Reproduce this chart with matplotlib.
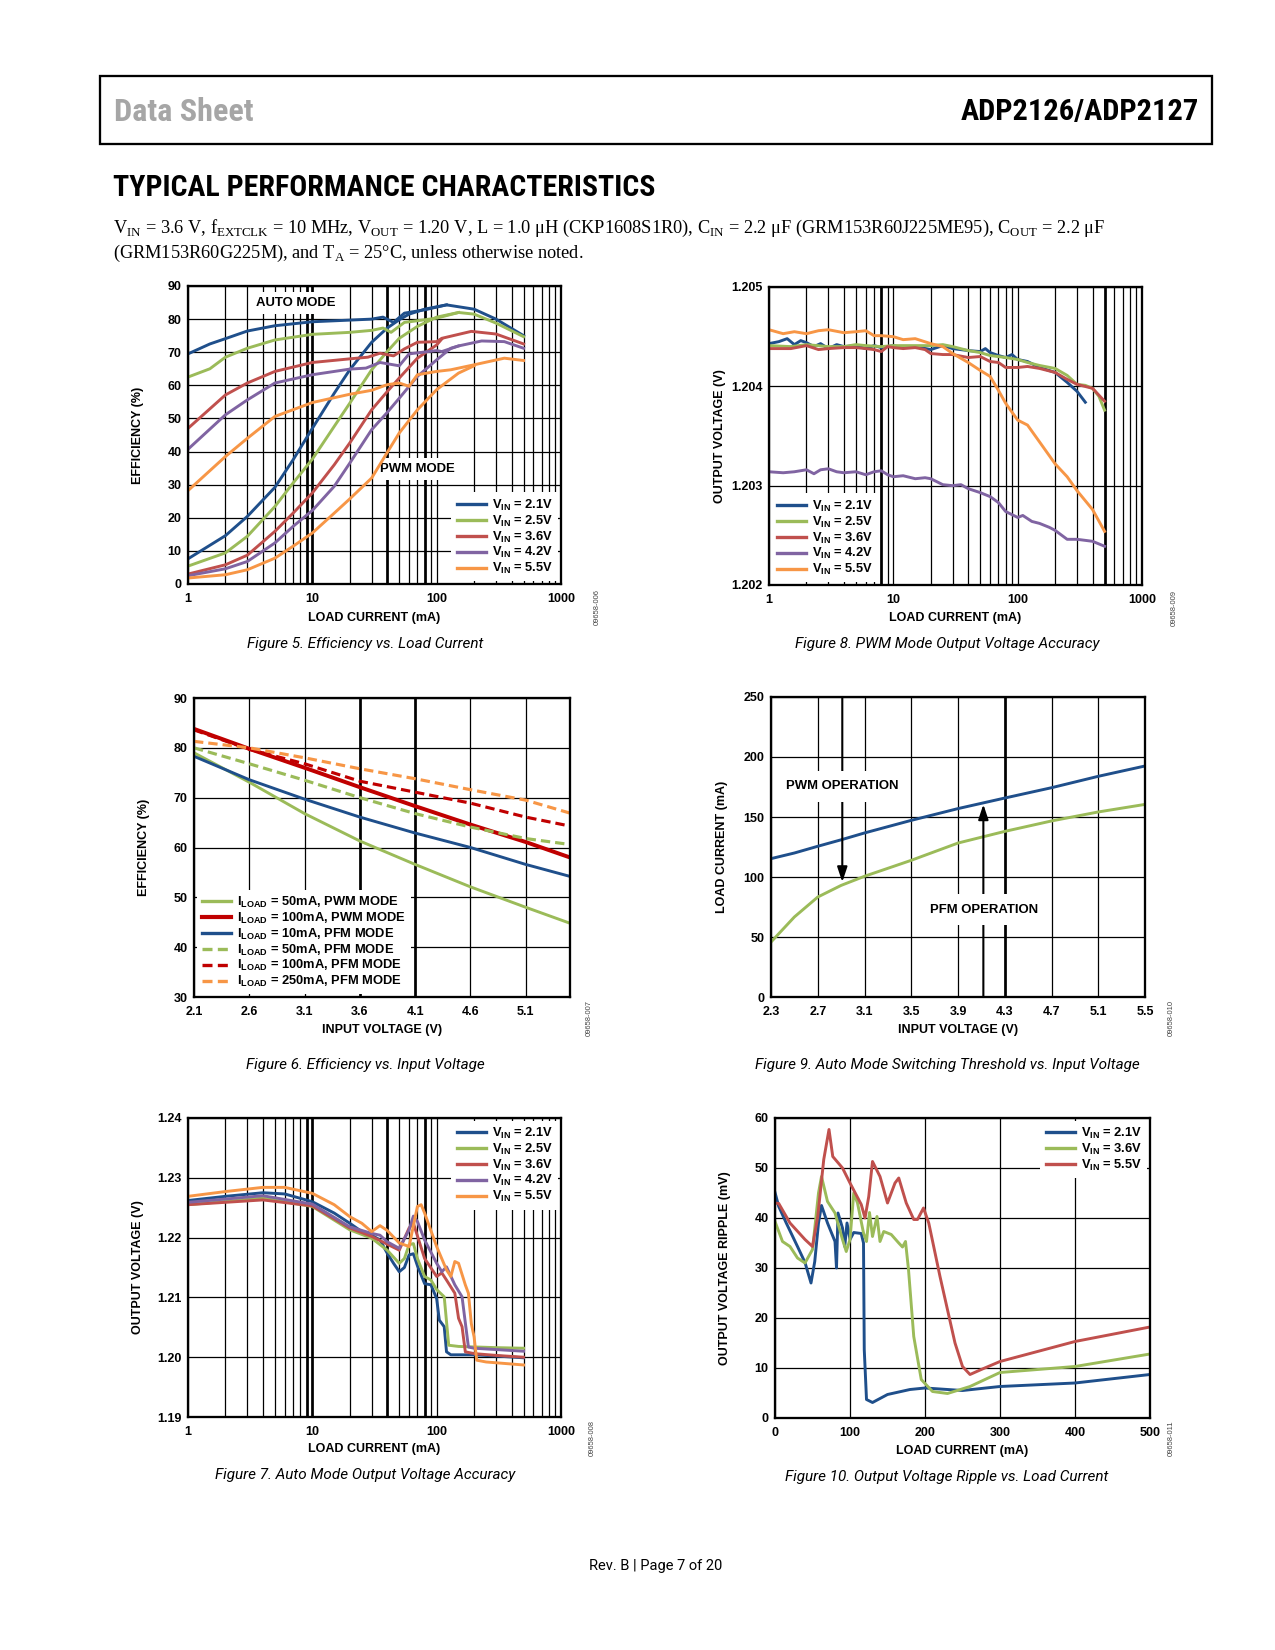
import os
import matplotlib
matplotlib.use('Agg')
import matplotlib.pyplot as plt
from matplotlib import font_manager as fm
from matplotlib.font_manager import FontProperties
from matplotlib.ticker import LogLocator, NullFormatter
from matplotlib.patches import Rectangle

# ---- colours
BLUE = '#1f4f8b'
GREEN = '#9bbb59'
RED = '#c0504d'
PURPLE = '#8064a2'
ORANGE = '#f79646'
DRED = '#c00000'

# ---- Figure 5: efficiency vs load current (auto / pwm mode)
f5_labels = [r'V$_{\mathbf{IN}}$ = 2.1V', r'V$_{\mathbf{IN}}$ = 2.5V', r'V$_{\mathbf{IN}}$ = 3.6V',
             r'V$_{\mathbf{IN}}$ = 4.2V', r'V$_{\mathbf{IN}}$ = 5.5V']
f5_auto_x = [
    [1, 1.5, 2, 3, 5, 10, 20, 30, 37, 45, 55, 80, 120, 200, 300, 500],
    [1, 1.5, 2, 3, 5, 10, 20, 30, 37, 43, 55, 80, 100, 150, 200, 300, 500],
    [1, 2, 3, 5, 10, 20, 28, 35, 45, 55, 70, 100, 110, 190, 300, 500],
    [1, 2, 3, 5, 10, 20, 27, 35, 50, 60, 100, 110, 150, 230, 350, 500],
    [1, 2, 3, 5, 10, 20, 30, 40, 50, 60, 70, 100, 130, 200, 350, 500],
]
f5_auto_y = [
    [69.5, 72.5, 74.1, 76.4, 78, 79.2, 79.7, 80, 80.6, 79, 81.8, 82.8, 84.3, 83, 80, 75],
    [62.5, 65, 68.5, 71.2, 73.7, 75.4, 76, 76.6, 77.3, 76, 79, 79.8, 80.3, 82, 81.5, 78.8, 74.7],
    [47, 57.1, 60.7, 64.2, 66.9, 68, 68.5, 69.7, 68.9, 71, 73, 73.2, 74.2, 76.3, 75.5, 72.5],
    [40.7, 51.1, 55.6, 60.7, 63.2, 64.9, 65.2, 66.9, 65.9, 69.5, 70.5, 70.2, 71.9, 73.4, 73.2, 71.2],
    [28.2, 38.5, 44, 50.6, 54.8, 57.3, 58.5, 60.2, 60.7, 59.7, 63.2, 64.2, 64.7, 66.2, 68.2, 67.5],
]
f5_pwm_x = [
    [1, 2, 3, 5, 7, 10, 15, 20, 30, 40, 50, 60, 80, 120],
    [1, 2, 3, 5, 7, 10, 15, 20, 30, 40, 50, 70, 100, 150],
    [1, 2, 3, 5, 7, 10, 15, 20, 30, 40, 50, 70, 100, 110],
    [1, 2, 3, 5, 7, 10, 15, 20, 30, 40, 50, 70, 100, 130, 150],
    [1, 2, 3, 5, 7, 10, 15, 20, 30, 40, 50, 70, 100, 150, 200],
]
f5_pwm_y = [
    [7.6, 14.6, 20.4, 29.2, 37.5, 47, 57.6, 64.7, 73, 77.3, 79.8, 81.5, 83, 84.3],
    [5.4, 9.4, 14.4, 23.4, 30.5, 37.7, 47.6, 54.6, 64.7, 70.2, 74.2, 77.8, 80.6, 82],
    [3, 5.8, 8.7, 15.9, 21.4, 27.5, 36, 42.6, 52.6, 58.1, 62.2, 68.2, 72.2, 74],
    [2.5, 4.6, 6.8, 12.4, 17.4, 22.2, 29.5, 36.5, 46.6, 51.8, 56.1, 62.7, 67.7, 71.2, 71.9],
    [1.8, 2.8, 4.3, 7.8, 11.4, 15.4, 21.4, 25.7, 32, 39.7, 45.6, 52.6, 58.7, 63.7, 65.9],
]
f5_colors = [BLUE, GREEN, RED, PURPLE, ORANGE]

# ---- Figure 8: PWM mode output voltage accuracy
f8_x = [
    [1, 1.2, 1.4, 1.6, 1.8, 2, 2.3, 2.6, 3, 3.5, 4, 5, 6, 7, 8, 10, 12, 15, 20, 25,
     30, 40, 50, 55, 60, 70, 80, 90, 100, 120, 150, 200, 250, 300, 350],
    [1, 1.5, 2, 3, 4, 5, 6, 8, 10, 15, 20, 25, 30, 40, 50, 60, 80, 100, 120, 150,
     200, 250, 300, 350, 400, 450, 500],
    [1, 1.5, 2, 2.5, 3, 4, 5, 6, 7, 8, 9, 10, 12, 15, 18, 20, 25, 30, 40, 50,
     60, 70, 80, 100, 120, 150, 200, 250, 300, 400, 500],
    [1, 1.3, 1.6, 2, 2.3, 2.6, 3, 3.5, 4, 5, 6, 7, 8, 9, 10, 12, 15, 18, 20, 25,
     30, 35, 40, 50, 60, 70, 80, 100, 110, 130, 150, 180, 200, 250, 300, 400, 500],
    [1, 1.3, 1.6, 2, 2.5, 3, 4, 5, 6, 7, 8, 10, 12, 15, 20, 25, 30, 40, 50, 60,
     70, 80, 100, 120, 150, 200, 250, 300, 400, 500],
]
f8_y = [
    [1.20443, 1.20445, 1.20448, 1.20442, 1.20446, 1.20444, 1.20440, 1.20443, 1.20438, 1.20442,
     1.20440, 1.20441, 1.20438, 1.20441, 1.20439, 1.20441, 1.20439, 1.20440, 1.20437, 1.20441,
     1.20438, 1.20436, 1.20435, 1.20438, 1.20434, 1.20431, 1.20429, 1.20432, 1.20427, 1.20425,
     1.20419, 1.20414, 1.20404, 1.20395, 1.20384],
    [1.20441, 1.20440, 1.20442, 1.20440, 1.20440, 1.20442, 1.20441, 1.20440, 1.20441, 1.20441,
     1.20441, 1.20442, 1.20440, 1.20436, 1.20434, 1.20431, 1.20429, 1.20427, 1.20424, 1.20421,
     1.20418, 1.20411, 1.20402, 1.20401, 1.20398, 1.20390, 1.20376],
    [1.20438, 1.20438, 1.20441, 1.20437, 1.20438, 1.20439, 1.20439, 1.20438, 1.20437, 1.20435,
     1.20440, 1.20439, 1.20438, 1.20439, 1.20437, 1.20433, 1.20432, 1.20432, 1.20429, 1.20430,
     1.20425, 1.20424, 1.20419, 1.20419, 1.20420, 1.20418, 1.20414, 1.20407, 1.20402, 1.20398,
     1.20385],
    [1.20314, 1.20313, 1.20314, 1.20316, 1.20312, 1.20316, 1.20317, 1.20314, 1.20313, 1.20314,
     1.20311, 1.20314, 1.20315, 1.20311, 1.20309, 1.20310, 1.20307, 1.20308, 1.20307, 1.20301,
     1.20300, 1.20301, 1.20297, 1.20293, 1.20289, 1.20283, 1.20274, 1.20268, 1.20270, 1.20264,
     1.20262, 1.20258, 1.20255, 1.20246, 1.20246, 1.20244, 1.20239],
    [1.20457, 1.20453, 1.20455, 1.20453, 1.20456, 1.20457, 1.20454, 1.20455, 1.20456, 1.20451,
     1.20451, 1.20450, 1.20447, 1.20448, 1.20443, 1.20440, 1.20433, 1.20424, 1.20416, 1.20410,
     1.20396, 1.20383, 1.20366, 1.20361, 1.20344, 1.20322, 1.20309, 1.20295, 1.20276, 1.20254],
]

# ---- Figure 6: efficiency vs input voltage
f6_vin = [2.1, 2.6, 3.1, 3.6, 4.1, 4.6, 5.1, 5.5]
f6_50ma_pwm = [79, 73.1, 66.8, 61.3, 56.6, 52.1, 48, 44.8]
f6_100ma_pwm = [83.8, 79.8, 76, 72.1, 68.3, 64.6, 61.1, 58]
f6_10ma_pfm = [78.3, 73.6, 69.7, 66.1, 62.9, 60, 56.6, 54.2]
f6_50ma_pfm = [80, 76.8, 73.5, 70, 66.8, 64.1, 61.8, 60.6]
f6_100ma_pfm = [83.6, 79.7, 76.8, 73.3, 71.1, 68.9, 66.1, 64.3]
f6_250ma_pfm = [81.3, 80, 78, 75.8, 73.8, 71.6, 69.5, 66.9]

# ---- Figure 9: auto mode switching threshold
f9_vin = [2.3, 2.5, 2.7, 2.9, 3.1, 3.5, 3.9, 4.3, 4.7, 5.1, 5.5]
f9_pfm_to_pwm = [115.3, 120, 125.6, 131, 136.7, 147.2, 157, 165.8, 174.4, 183.9, 192.5]
f9_pwm_to_pfm = [45.8, 66.7, 83.3, 93, 100.6, 113.9, 128.3, 138, 146.7, 154.2, 160.5]

# ---- Figure 7: auto mode output voltage accuracy
f7_x = [
    [1, 2, 4, 6, 10, 15, 20, 25, 30, 35, 40, 45, 50, 55, 60, 65, 70, 80, 90, 100,
     105, 115, 120, 130, 200, 300, 500],
    [1, 4, 10, 20, 30, 40, 50, 55, 60, 65, 70, 80, 90, 100, 115, 125, 150, 300, 500],
    [1, 4, 10, 20, 30, 40, 50, 60, 65, 80, 100, 110, 120, 140, 150, 160, 170, 200, 300, 500],
    [1, 4, 10, 20, 30, 35, 40, 50, 60, 65, 70, 80, 100, 110, 120, 140, 160, 180, 200, 500],
    [1, 2, 4, 6, 10, 15, 20, 25, 30, 35, 40, 50, 60, 70, 75, 80, 100, 120, 130, 140,
     150, 170, 180, 190, 200, 210, 250, 500],
]
f7_y = [
    [1.2262, 1.2269, 1.2275, 1.2273, 1.2260, 1.2241, 1.2224, 1.2210, 1.2204, 1.2196,
     1.2174, 1.2157, 1.2143, 1.2150, 1.2171, 1.2173, 1.2153, 1.2123, 1.2121, 1.2098,
     1.2062, 1.2051, 1.2009, 1.2004, 1.2004, 1.2002, 1.1999],
    [1.2255, 1.2266, 1.2252, 1.2213, 1.2199, 1.2179, 1.2157, 1.2165, 1.2188, 1.2190,
     1.2165, 1.2135, 1.2129, 1.2113, 1.2101, 1.2020, 1.2018, 1.2016, 1.2015],
    [1.2255, 1.2263, 1.2253, 1.2216, 1.2202, 1.2189, 1.2179, 1.2216, 1.2224, 1.2165,
     1.2135, 1.2141, 1.2129, 1.2107, 1.2065, 1.2051, 1.2009, 1.2006, 1.2003, 1.2000],
    [1.2259, 1.2270, 1.2256, 1.2218, 1.2207, 1.2204, 1.2193, 1.2182, 1.2213, 1.2236,
     1.2227, 1.2196, 1.2157, 1.2143, 1.2151, 1.2121, 1.2101, 1.2017, 1.2015, 1.2010],
    [1.2269, 1.2277, 1.2284, 1.2284, 1.2274, 1.2255, 1.2235, 1.2224, 1.2210, 1.2220,
     1.2212, 1.2191, 1.2185, 1.2252, 1.2255, 1.2241, 1.2185, 1.2146, 1.2135, 1.2160,
     1.2157, 1.2121, 1.2107, 1.2056, 1.2034, 1.1995, 1.1992, 1.1987],
]

# ---- Figure 10: output voltage ripple vs load current
f10_labels = [r'V$_{\mathbf{IN}}$ = 2.1V', r'V$_{\mathbf{IN}}$ = 3.6V', r'V$_{\mathbf{IN}}$ = 5.5V']
f10_x = [
    [0, 5, 15, 30, 40, 48, 53, 58, 62, 70, 80, 82, 84, 90, 93, 96, 100, 105, 115, 118,
     119, 122, 130, 150, 180, 200, 250, 300, 400, 500],
    [0, 10, 20, 30, 40, 50, 58, 62, 70, 80, 90, 95, 100, 105, 110, 118, 122, 126, 130, 136,
     140, 145, 155, 165, 170, 174, 178, 185, 195, 210, 230, 260, 300, 400, 500],
    [0, 5, 20, 40, 50, 57, 65, 72, 77, 90, 100, 115, 120, 125, 130, 140, 150, 160, 165, 175,
     185, 190, 198, 205, 220, 240, 250, 260, 275, 300, 400, 500],
]
f10_y = [
    [45.1, 42.3, 39, 34.3, 31.1, 27, 31.3, 39, 42.5, 39, 35.3, 30, 41, 38, 34.3, 39, 35.7, 37.1, 36.9, 35,
     13.7, 3.7, 3.1, 4.7, 5.7, 6, 5.5, 6.3, 7, 8.7],
    [39.3, 35.3, 34.3, 32, 31, 33.7, 45, 48.3, 43.3, 41, 35.7, 33.3, 35.7, 45, 43, 37, 35.3, 41.1, 36.3, 40.3,
     35.3, 37.3, 36.7, 35, 34.2, 35.3, 29.7, 16.3, 7.7, 5.3, 4.9, 6.3, 9.1, 10.3, 12.8],
    [43, 42.9, 39, 35.7, 34.3, 40.3, 51.7, 57.7, 52.3, 50, 47, 42.7, 40, 44.3, 51.3, 48.3, 43, 47, 48, 43,
     39.7, 39.7, 42, 39, 28.3, 15, 10.3, 8.7, 9.7, 11.3, 15.3, 18.2],
]
f10_colors = [BLUE, GREEN, RED]

# ---------------------------------------------------------------------------
W, H = 1275, 1650
plt.rcParams['font.family'] = ['Liberation Sans', 'DejaVu Sans']
plt.rcParams['mathtext.fontset'] = 'custom'
plt.rcParams['mathtext.rm'] = 'Liberation Serif'
plt.rcParams['mathtext.bf'] = 'Liberation Sans:bold'

fig = plt.figure(figsize=(W / 150, H / 150), dpi=150)
renderer = fig.canvas.get_renderer()

CAPFONT = ['Roboto', 'DejaVu Sans']


def narrow_font():
    # look for a condensed bold face for the page headings
    wanted = ['liberationsansnarrow-bold.ttf', 'notosans-condensedbold.ttf',
              'robotocondensed-bold.ttf', 'opensans-condensedbold.ttf',
              'dejavusanscondensed-bold.ttf', 'notosans-condensedsemibold.ttf']
    files = {os.path.basename(f.fname).lower(): f.fname for f in fm.fontManager.ttflist}
    for w in wanted:
        if w in files:
            return FontProperties(fname=files[w])
    return FontProperties(family='Liberation Sans', weight='bold')


HEAD = narrow_font()


def fx(x):
    return x / W


def fy(y):
    return 1 - y / H


def fit_width(t, target):
    w = t.get_window_extent(renderer=renderer).width
    t.set_fontsize(t.get_fontsize() * target / w)


def add_ax(x0, y0, x1, y1):
    return fig.add_axes([x0 / W, 1 - y1 / H, (x1 - x0) / W, (y1 - y0) / H])


def setup(ax, xlog, xlim, ylim, xticks, xlabels, yticks, ylabels, bold_x=()):
    if xlog:
        ax.set_xscale('log')
        ax.xaxis.set_minor_locator(LogLocator(base=10, subs=range(2, 10)))
        ax.xaxis.set_minor_formatter(NullFormatter())
    ax.set_xlim(xlim)
    ax.set_ylim(ylim)
    ax.set_xticks(xticks, xlabels)
    ax.set_yticks(yticks, ylabels)
    ax.tick_params(which='both', length=0)
    ax.tick_params(axis='x', pad=4.5, labelsize=6)
    ax.tick_params(axis='y', pad=3, labelsize=6)
    for t in ax.get_xticklabels() + ax.get_yticklabels():
        t.set_fontweight('bold')
    ax.grid(True, which='major', color='black', lw=0.6)
    if xlog:
        ax.grid(True, which='minor', axis='x', color='black', lw=0.6)
    for x in bold_x:
        ax.axvline(x, color='black', lw=1.3, zorder=0.6)
    for s in ax.spines.values():
        s.set_linewidth(1.1)
    ax.set_axisbelow(True)


def labels(ax, xl, yl, xpos, ypos):
    ax.set_xlabel(xl, fontsize=6, fontweight='bold', va='center')
    ax.set_ylabel(yl, fontsize=6, fontweight='bold', va='center')
    ax.xaxis.set_label_coords(0.5, ypos)
    ax.yaxis.set_label_coords(xpos, 0.5)


def legend(ax, loc, anchor):
    leg = ax.legend(loc=loc, bbox_to_anchor=anchor, fontsize=6.2, frameon=True, fancybox=False,
                    framealpha=1, edgecolor='none', facecolor='white', handlelength=2.3,
                    handletextpad=0.45, labelspacing=0.06, borderpad=0.4, borderaxespad=0.2)
    for t in leg.get_texts():
        t.set_fontweight('bold')
    for ln in leg.get_lines():
        ln.set_linewidth(1.6)
    return leg


# ---- page header
fig.add_artist(Rectangle((fx(100), fy(144)), (1212 - 100) / W, 68 / H, transform=fig.transFigure,
                         fill=False, lw=1.1, ec='black'))
t = fig.text(fx(114), fy(112), 'Data Sheet', fontproperties=HEAD, size=17,
             color='#a6a6a6', ha='left', va='center')
fit_width(t, 139)
t = fig.text(fx(1199), fy(112), 'ADP2126/ADP2127', fontproperties=HEAD, size=17,
             color='black', ha='right', va='center')
fit_width(t, 238)
t = fig.text(fx(113), fy(188), 'TYPICAL PERFORMANCE CHARACTERISTICS', fontproperties=HEAD,
             size=17, color='black', ha='left', va='center')
fit_width(t, 541)
cond1 = (r'V$_{\rm IN}$ = 3.6 V, f$_{\rm EXTCLK}$ = 10 MHz, V$_{\rm OUT}$ = 1.20 V, L = 1.0 μH '
         r'(CKP1608S1R0), C$_{\rm IN}$ = 2.2 μF (GRM153R60J225ME95), C$_{\rm OUT}$ = 2.2 μF')
cond2 = r'(GRM153R60G225M), and T$_{\rm A}$ = 25°C, unless otherwise noted.'
t1 = fig.text(fx(113), fy(228), cond1, family=['Liberation Serif'], size=8.7, ha='left', va='center')
fit_width(t1, 994)
fig.text(fx(113), fy(253), cond2, family=['Liberation Serif'], size=t1.get_fontsize(),
         ha='left', va='center')

# ---- Figure 5
ax5 = add_ax(188, 286, 561, 584)
setup(ax5, True, (1, 1000), (0, 90), [1, 10, 100, 1000], ['1', '10', '100', '1000'],
      range(0, 91, 10), [str(v) for v in range(0, 91, 10)], bold_x=(9, 10, 40, 80))
for i in range(5):
    ax5.plot(f5_auto_x[i], f5_auto_y[i], color=f5_colors[i], lw=1.4, label=f5_labels[i])
    ax5.plot(f5_pwm_x[i], f5_pwm_y[i], color=f5_colors[i], lw=1.4)
ax5.text(7.4, 84.8, 'AUTO MODE', fontsize=6.3, fontweight='bold', ha='center', va='center',
         zorder=1.5, bbox=dict(fc='white', ec='none', pad=2.5))
ax5.text(69.5, 34.7, 'PWM MODE', fontsize=6.3, fontweight='bold', ha='center', va='center',
         zorder=1.5, bbox=dict(fc='white', ec='none', pad=2.5))
legend(ax5, 'lower right', (1, 0))
labels(ax5, 'LOAD CURRENT (mA)', 'EFFICIENCY (%)', -0.134, -0.114)

# ---- Figure 8
ax8 = add_ax(769, 287, 1142, 585)
setup(ax8, True, (1, 1000), (1.202, 1.205), [1, 10, 100, 1000], ['1', '10', '100', '1000'],
      [1.202, 1.203, 1.204, 1.205], ['1.202', '1.203', '1.204', '1.205'], bold_x=(8, 500))
for i in range(5):
    ax8.plot(f8_x[i], f8_y[i], color=f5_colors[i], lw=1.4, label=f5_labels[i])
legend(ax8, 'lower left', (0, 0))
labels(ax8, 'LOAD CURRENT (mA)', 'OUTPUT VOLTAGE (V)', -0.131, -0.111)

# ---- Figure 6
ax6 = add_ax(194, 698, 570, 997)
setup(ax6, False, (2.1, 5.5), (30, 90), [2.1, 2.6, 3.1, 3.6, 4.1, 4.6, 5.1],
      ['2.1', '2.6', '3.1', '3.6', '4.1', '4.6', '5.1'],
      range(30, 91, 10), [str(v) for v in range(30, 91, 10)], bold_x=(3.6, 4.1))
ax6.plot(f6_vin, f6_50ma_pwm, color=GREEN, lw=1.4, label=r'I$_{\mathbf{LOAD}}$ = 50mA, PWM MODE')
ax6.plot(f6_vin, f6_100ma_pwm, color=DRED, lw=1.9, label=r'I$_{\mathbf{LOAD}}$ = 100mA, PWM MODE')
ax6.plot(f6_vin, f6_10ma_pfm, color=BLUE, lw=1.4, label=r'I$_{\mathbf{LOAD}}$ = 10mA, PFM MODE')
ax6.plot(f6_vin, f6_50ma_pfm, color=GREEN, lw=1.5, dashes=(3, 1.6),
         label=r'I$_{\mathbf{LOAD}}$ = 50mA, PFM MODE')
ax6.plot(f6_vin, f6_100ma_pfm, color=DRED, lw=1.5, dashes=(3, 1.6),
         label=r'I$_{\mathbf{LOAD}}$ = 100mA, PFM MODE')
ax6.plot(f6_vin, f6_250ma_pfm, color=ORANGE, lw=1.5, dashes=(3, 1.6),
         label=r'I$_{\mathbf{LOAD}}$ = 250mA, PFM MODE')
leg6 = legend(ax6, 'lower left', (0, 0))
leg6.get_lines()[1].set_linewidth(2.0)
labels(ax6, 'INPUT VOLTAGE (V)', 'EFFICIENCY (%)', -0.133, -0.11)

# ---- Figure 9
ax9 = add_ax(771, 697, 1145, 997)
setup(ax9, False, (2.3, 5.5), (0, 250), [2.3, 2.7, 3.1, 3.5, 3.9, 4.3, 4.7, 5.1, 5.5],
      ['2.3', '2.7', '3.1', '3.5', '3.9', '4.3', '4.7', '5.1', '5.5'],
      range(0, 251, 50), [str(v) for v in range(0, 251, 50)], bold_x=(4.3,))
ax9.plot(f9_vin, f9_pfm_to_pwm, color=BLUE, lw=1.4)
ax9.plot(f9_vin, f9_pwm_to_pfm, color=GREEN, lw=1.4)
arrow = dict(arrowstyle='-|>,head_width=0.2,head_length=0.6', color='black', lw=1.0,
             shrinkA=0, shrinkB=0)
ax9.annotate('', xy=(2.91, 95.8), xytext=(2.91, 250), arrowprops=arrow, zorder=4)
ax9.annotate('', xy=(4.117, 160.5), xytext=(4.117, 0), arrowprops=arrow, zorder=4)
ax9.text(2.91, 175.5, 'PWM OPERATION', fontsize=6.3, fontweight='bold', ha='center', va='center',
         zorder=5, bbox=dict(fc='white', ec='none', pad=4.5))
ax9.text(4.126, 72.8, 'PFM OPERATION', fontsize=6.3, fontweight='bold', ha='center', va='center',
         zorder=5, bbox=dict(fc='white', ec='none', pad=4.5))
labels(ax9, 'INPUT VOLTAGE (V)', 'LOAD CURRENT (mA)', -0.131, -0.11)

# ---- Figure 7
ax7 = add_ax(188, 1118, 561, 1417)
setup(ax7, True, (1, 1000), (1.19, 1.24), [1, 10, 100, 1000], ['1', '10', '100', '1000'],
      [1.19, 1.20, 1.21, 1.22, 1.23, 1.24], ['1.19', '1.20', '1.21', '1.22', '1.23', '1.24'],
      bold_x=(9, 10, 40, 80))
for i in range(5):
    ax7.plot(f7_x[i], f7_y[i], color=f5_colors[i], lw=1.4, label=f5_labels[i])
legend(ax7, 'upper right', (1, 1))
labels(ax7, 'LOAD CURRENT (mA)', 'OUTPUT VOLTAGE (V)', -0.134, -0.107)

# ---- Figure 10
ax10 = add_ax(775, 1118, 1150, 1418)
setup(ax10, False, (0, 500), (0, 60), range(0, 501, 100), [str(v) for v in range(0, 501, 100)],
      range(0, 61, 10), [str(v) for v in range(0, 61, 10)])
for i in range(3):
    ax10.plot(f10_x[i], f10_y[i], color=f10_colors[i], lw=1.4, label=f10_labels[i])
legend(ax10, 'upper right', (1, 1))
labels(ax10, 'LOAD CURRENT (mA)', 'OUTPUT VOLTAGE RIPPLE (mV)', -0.133, -0.11)

# ---- captions and figure ids
captions = [
    (365, 644, 'Figure 5. Efficiency vs. Load Current'),
    (947, 644, 'Figure 8. PWM Mode Output Voltage Accuracy'),
    (365, 1065, 'Figure 6. Efficiency vs. Input Voltage'),
    (947, 1065, 'Figure 9. Auto Mode Switching Threshold vs. Input Voltage'),
    (365, 1475, 'Figure 7. Auto Mode Output Voltage Accuracy'),
    (947, 1477, 'Figure 10. Output Voltage Ripple vs. Load Current'),
]
for x, y, s in captions:
    fig.text(fx(x), fy(y), s, family=CAPFONT, style='italic', size=7.3, ha='center', va='center')

ids = [(597, 607, '09658-006'), (1174, 608, '09658-009'), (589, 1018, '09658-007'),
       (1171, 1018, '09658-010'), (592, 1438, '09658-008'), (1171, 1438, '09658-011')]
for x, y, s in ids:
    fig.text(fx(x), fy(y), s, size=3.6, rotation=90, ha='center', va='center', color='#444444')

fig.text(fx(656), fy(1566), 'Rev. B | Page 7 of 20', family=CAPFONT, size=7.0,
         ha='center', va='center')

fig.savefig('out.png', dpi=150)
